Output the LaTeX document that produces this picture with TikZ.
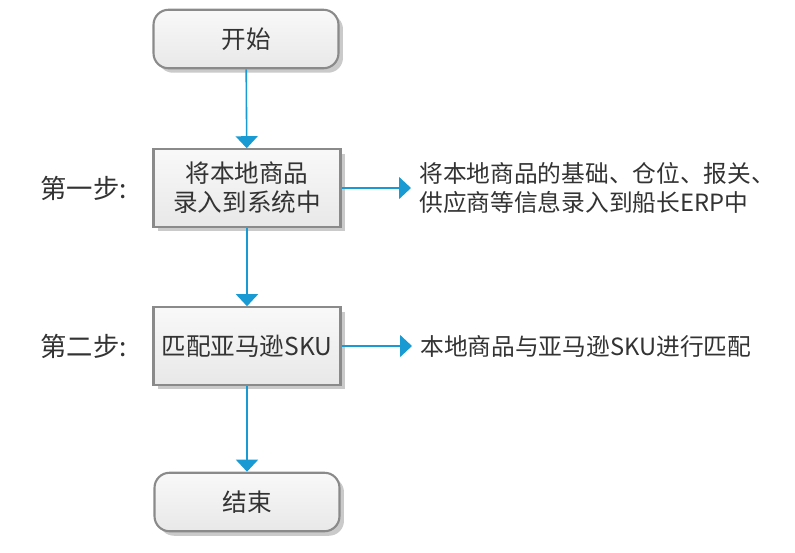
\documentclass[tikz,border=0pt]{standalone}
\usepackage{fontspec}
\newfontfamily\cjk{Noto Sans CJK SC}
\usetikzlibrary{arrows.meta,shadows}

\definecolor{flowblue}{HTML}{1A9AD2}
\definecolor{boxgray}{HTML}{8A8A8A}
\definecolor{txtgray}{HTML}{333333}

\tikzset{
  flowbox/.style={draw=boxgray, line width=1.2pt, top color=gray!5, bottom color=gray!18,
    text=txtgray, align=center, font=\cjk\fontsize{14}{16.5}\selectfont,
    drop shadow={shadow xshift=0.09cm, shadow yshift=-0.09cm, opacity=0.35, fill=black!60}},
  endbox/.style={flowbox, rounded corners=0.3cm, minimum width=3.7cm, minimum height=1.17cm},
  stepbox/.style={flowbox, minimum width=3.74cm, minimum height=1.55cm},
  flow/.style={draw=flowblue, line width=0.9pt, -{Triangle[width=0.44cm,length=0.24cm]}, color=flowblue},
  note/.style={text=txtgray, align=left, anchor=west, inner xsep=0.16cm, inner ysep=0pt,
    font=\cjk\fontsize{13.5}{17}\selectfont},
  steplabel/.style={text=txtgray, anchor=west, inner sep=0pt, font=\cjk\fontsize{15}{18}\selectfont}
}

\begin{document}
\begin{tikzpicture}[x=0.02cm,y=-0.02cm]
  \useasboundingbox (0,0) rectangle (795,552);

  % Define nodes
  \node (start) at (246,39) [endbox] {开始};
  \node (s1) at (247,188) [stepbox] {将本地商品\\录入到系统中};
  \node (s2) at (247,346) [stepbox] {匹配亚马逊SKU};
  \node (stop) at (247,502) [endbox] {结束};

  % Step labels
  \node (l1) at (40,188) [steplabel] {第一步:};
  \node (l2) at (40,346) [steplabel] {第二步:};

  % Notes
  \node (n1) at (411,188) [note] {将本地商品的基础、仓位、报关、\\供应商等信息录入到船长ERP中};
  \node (n2) at (412,346) [note] {本地商品与亚马逊SKU进行匹配};

  % Draw edges
  \draw[flow] (start) -- (s1);
  \draw[flow] (s1) -- (s2);
  \draw[flow] (s2) -- (stop);
  \draw[flow] (s1) -- (n1);
  \draw[flow] (s2) -- (n2);
\end{tikzpicture}
\end{document}
